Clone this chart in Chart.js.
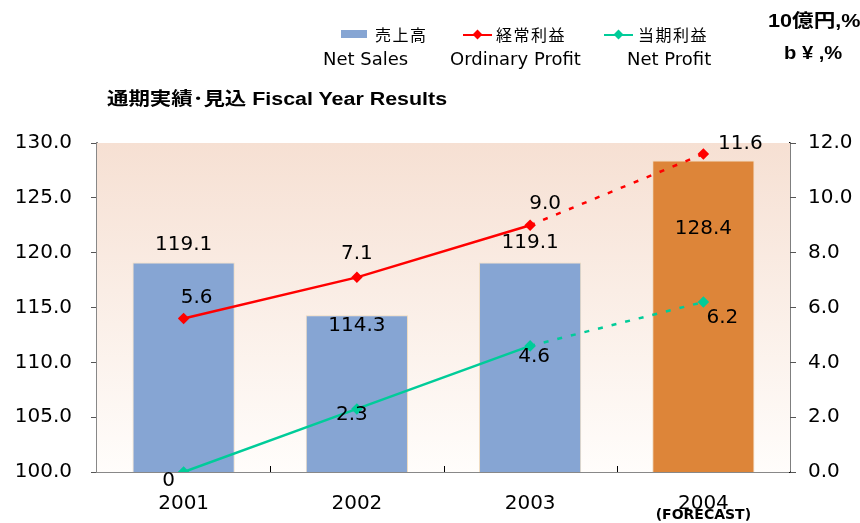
<!DOCTYPE html>
<html>
<head>
<meta charset="utf-8">
<script src="https://cdn.jsdelivr.net/npm/chart.js@4.4.1/dist/chart.umd.min.js"></script>
<style>
  html, body { margin:0; padding:0; background:#fff; }
  #wrap { position:relative; width:860px; height:523px; font-family:'Liberation Sans', Arial, sans-serif; }
  #chart { position:absolute; left:0; top:0; }
  .abs { position:absolute; white-space:nowrap; color:#000; line-height:1; }
  .jp { font-family:'Noto Sans CJK JP', sans-serif; }
  .en { font-family:'DejaVu Sans', sans-serif; font-size:18px; }
  .wide { transform-origin:left center; }
  .swatch { position:absolute; width:26px; height:8px; background:#86a5d3; }
  .lg-line { position:absolute; width:29px; height:2px; }
  .lg-dot { position:absolute; width:7px; height:7px; transform:rotate(45deg); }
</style>
</head>
<body>
<div id="wrap">
  <canvas id="chart" width="860" height="523"></canvas>

  <!-- legend -->
  <div class="swatch" style="left:341px;top:30px;"></div>
  <div class="abs jp" style="left:375px;top:26px;font-size:16px;letter-spacing:1.5px;">売上高</div>
  <div class="lg-line" style="left:463px;top:34px;background:#ff0000;"></div>
  <div class="lg-dot" style="left:474px;top:31px;background:#ff0000;"></div>
  <div class="abs jp" style="left:496px;top:26px;font-size:16px;letter-spacing:1.5px;">経常利益</div>
  <div class="lg-line" style="left:604px;top:34px;background:#00cc99;"></div>
  <div class="lg-dot" style="left:615px;top:31px;background:#00cc99;"></div>
  <div class="abs jp" style="left:638px;top:26px;font-size:16px;letter-spacing:1.5px;">当期利益</div>
  <div class="abs en" style="left:323px;top:50px;">Net Sales</div>
  <div class="abs en" style="left:450px;top:50px;">Ordinary Profit</div>
  <div class="abs en" style="left:627px;top:50px;">Net Profit</div>

  <!-- unit -->
  <div class="abs wide" style="left:768px;top:10px;font-size:18px;font-weight:bold;transform:scaleX(1.2);">10<span class="jp">億円</span>,%</div>
  <div class="abs wide" style="left:784px;top:44px;font-size:18px;font-weight:bold;transform:scaleX(1.12);">b ¥ ,%</div>

  <!-- title -->
  <div class="abs wide" style="left:107px;top:88px;font-size:18px;font-weight:bold;transform:scaleX(1.19);"><span class="jp">通期実績･見込</span> Fiscal Year Results</div>
</div>

<script>
// ---------- Data ----------
const years       = ['2001', '2002', '2003', '2004'];
const netSales    = [119.1, 114.3, 119.1, 128.4];
const ordinary    = [5.6, 7.1, 9.0, 11.6];
const netProfit   = [0, 2.3, 4.6, 6.2];
const salesTicks  = [100, 105, 110, 115, 120, 125, 130];
const profitTicks = [0, 2, 4, 6, 8, 10, 12];

const BLUE = '#86a5d3', ORANGE = '#dd8539', RED = '#ff0000', GREEN = '#00cc99';
const FONT = "'DejaVu Sans', sans-serif";

// label offsets (px) relative to each mark
const barLabelOff = [[0,-18],[0,11],[0,-20],[0,68]];
const ordLabelOff = [[13,-21],[0,-24],[15,-21],[37,-10]];
const netLabelOff = [[-15,9],[-5,6],[4,11],[19,16]];

// ---------- Plugins ----------
const bgGradient = {
  id: 'bgGradient',
  beforeDatasetsDraw(chart){
    const {ctx, chartArea:{left, right, top, bottom}} = chart;
    const g = ctx.createLinearGradient(0, top, 0, bottom);
    g.addColorStop(0, '#f6e0d3');
    g.addColorStop(1, '#fffdfb');
    ctx.save();
    ctx.fillStyle = g;
    ctx.fillRect(left, top, right-left, bottom-top);
    ctx.restore();
  }
};

const valueLabels = {
  id: 'valueLabels',
  afterDatasetsDraw(chart){
    const ctx = chart.ctx;
    ctx.save();
    ctx.fillStyle = '#000';
    ctx.font = '20px ' + FONT;
    ctx.textAlign = 'center';
    ctx.textBaseline = 'middle';
    const sets = [
      [0, netSales, barLabelOff, v => v.toFixed(1)],
      [1, ordinary, ordLabelOff, v => v.toFixed(1)],
      [2, netProfit, netLabelOff, v => v === 0 ? '0' : v.toFixed(1)]
    ];
    for (const [di, vals, off, fmt] of sets){
      chart.getDatasetMeta(di).data.forEach((el, i) => {
        ctx.fillText(fmt(vals[i]), el.x + off[i][0], el.y + off[i][1]);
      });
    }
    // x tick marks between categories (inward)
    const xs = chart.scales.x, b = chart.chartArea.bottom;
    ctx.strokeStyle = '#000';
    ctx.lineWidth = 1;
    for (let i = 0; i < years.length - 1; i++){
      const px = Math.round((xs.getPixelForValue(i) + xs.getPixelForValue(i+1)) / 2) + 0.5;
      ctx.beginPath(); ctx.moveTo(px, b); ctx.lineTo(px, b - 6); ctx.stroke();
    }
    // forecast note
    ctx.font = 'bold 14px ' + FONT;
    ctx.fillText('(FORECAST)', xs.getPixelForValue(3), 515);
    ctx.restore();
  }
};

// ---------- Chart ----------
const dottedLast = c => c.p1DataIndex === years.length - 1 ? [5, 9] : undefined;

new Chart(document.getElementById('chart'), {
  data: {
    labels: years,
    datasets: [
      { type:'bar', label:'Net Sales', data: netSales, yAxisID:'y',
        backgroundColor: netSales.map((v,i) => i === 3 ? ORANGE : BLUE),
        borderColor:'#efdcc0', borderWidth:1,
        barPercentage:0.59, categoryPercentage:1.0, order:2 },
      { type:'line', label:'Ordinary Profit', data: ordinary, yAxisID:'y1',
        borderColor:RED, backgroundColor:RED, borderWidth:2.5,
        pointStyle:'rectRot', pointRadius:4, pointHoverRadius:4,
        segment:{ borderDash: dottedLast }, order:1 },
      { type:'line', label:'Net Profit', data: netProfit, yAxisID:'y1',
        borderColor:GREEN, backgroundColor:GREEN, borderWidth:2.5,
        pointStyle:'rectRot', pointRadius:4, pointHoverRadius:4,
        segment:{ borderDash: dottedLast }, order:1 }
    ]
  },
  options: {
    responsive:false,
    animation:false,
    layout:{ padding:{ left:0, right:0, top:143, bottom:0 } },
    plugins:{ legend:{ display:false }, tooltip:{ enabled:false } },
    scales:{
      x:{
        offset:true,
        grid:{ display:false },
        border:{ color:'#888', width:2 },
        ticks:{ color:'#000', font:{ family:FONT, size:20 }, padding:12 },
        afterFit(s){ s.height = 51; }
      },
      y:{
        position:'left', min:100, max:130,
        afterBuildTicks(s){ s.ticks = salesTicks.map(v => ({ value:v })); },
        grid:{ drawOnChartArea:false, tickLength:6, color:'#555' },
        border:{ color:'#888', width:2 },
        ticks:{ color:'#000', font:{ family:FONT, size:20 }, padding:19, callback:v => v.toFixed(1) },
        afterFit(s){ s.width = 97; }
      },
      y1:{
        position:'right', min:0, max:12,
        afterBuildTicks(s){ s.ticks = profitTicks.map(v => ({ value:v })); },
        grid:{ drawOnChartArea:false, tickLength:6, color:'#555' },
        border:{ color:'#000', width:1.5 },
        ticks:{ color:'#000', font:{ family:FONT, size:20 }, padding:12, callback:v => v.toFixed(1) },
        afterFit(s){ s.width = 70; }
      }
    }
  },
  plugins:[bgGradient, valueLabels]
});
</script>
</body>
</html>
